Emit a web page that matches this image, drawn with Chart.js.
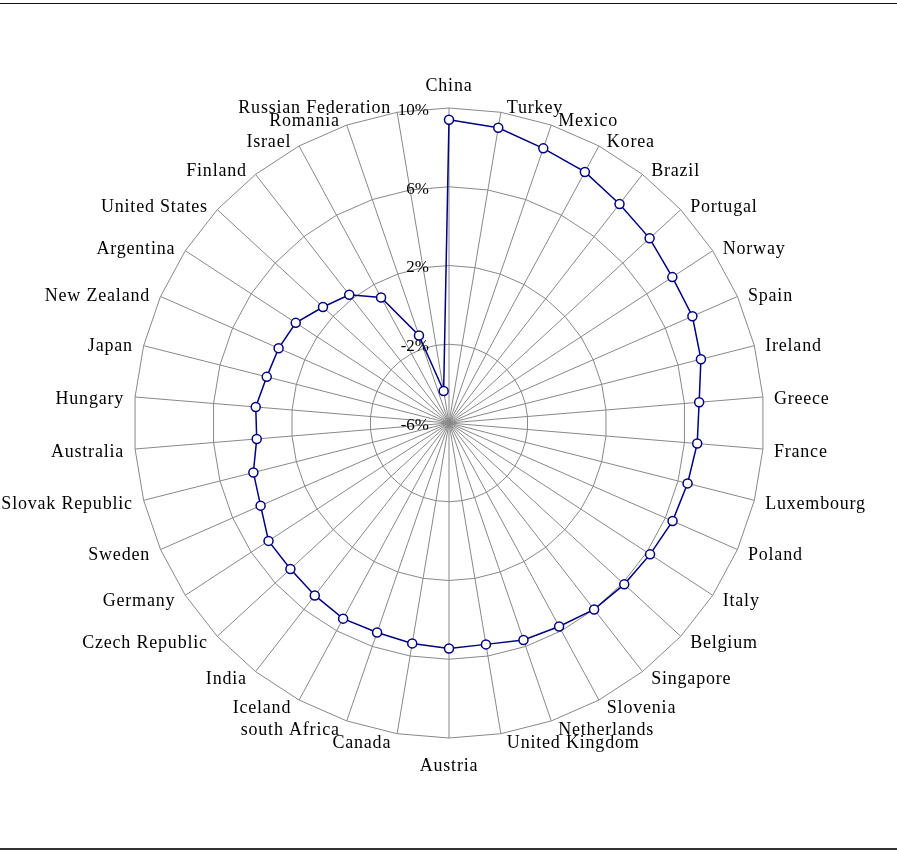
<!DOCTYPE html>
<html>
<head>
<meta charset="utf-8">
<script src="https://cdn.jsdelivr.net/npm/chart.js@4.4.1/dist/chart.umd.min.js"></script>
<style>
  html, body { margin: 0; padding: 0; background: #fff; }
  #wrap { position: relative; width: 897px; height: 850px; overflow: hidden; }
  #c { position: absolute; left: 0; top: 0; }
  .rule { position: absolute; left: 0; width: 897px; }
  #topRule { top: 3px; height: 1px; background: #111; }
  #botRule { top: 848px; height: 2px; background: #333; }
</style>
</head>
<body>
<div id="wrap">
  <canvas id="c" width="897" height="850"></canvas>
  <div id="topRule" class="rule"></div>
  <div id="botRule" class="rule"></div>
</div>
<script>
const categories = [
  "China", "Turkey", "Mexico", "Korea", "Brazil", "Portugal", "Norway", "Spain",
  "Ireland", "Greece", "France", "Luxembourg", "Poland", "Italy", "Belgium",
  "Singapore", "Slovenia", "Netherlands", "United Kingdom", "Austria", "Canada",
  "south Africa", "Iceland", "India", "Czech Republic", "Germany", "Sweden",
  "Slovak Republic", "Australia", "Hungary", "Japan", "New Zealand", "Argentina",
  "United States", "Finland", "Israel", "Romania", "Russian Federation"
];
const growthValues = [
  9.4, 9.2, 8.75, 8.5, 8.1, 7.85, 7.55, 7.5,
  7.2, 6.75, 6.65, 6.5, 6.4, 6.2, 6.1,
  6.0, 5.75, 5.65, 5.4, 5.45, 5.35,
  5.25, 5.3, 5.1, 4.95, 4.95, 4.45,
  4.25, 3.8, 3.85, 3.55, 3.45, 3.3,
  2.7, 2.25, 1.25, -1.3, -4.35
];
const tickValues = [-6, -2, 2, 6, 10];
const tickLabels = ["-6%", "-2%", "2%", "6%", "10%"];

const labelPlugin = {
  id: 'customLabels',
  beforeDatasetsDraw(chart) {
    const s = chart.scales.r;
    const ctx = chart.ctx;
    ctx.save();
    ctx.fillStyle = '#000';
    // tick labels
    ctx.font = '17px "Liberation Serif", "Times New Roman", serif';
    ctx.textAlign = 'right';
    ctx.textBaseline = 'middle';
    tickValues.forEach((v, i) => {
      const d = s.getDistanceFromCenterForValue(v);
      ctx.fillText(tickLabels[i], s.xCenter - 20, s.yCenter - d + 2.5);
    });
    // point labels
    ctx.font = '18px "Liberation Serif", "Times New Roman", serif';
    try { ctx.letterSpacing = '0.8px'; } catch (e) {}
    const R = s.drawingArea;
    categories.forEach((lab, i) => {
      const p = s.getPointPosition(i, R);
      const a = s.getIndexAngle(i);
      const sn = Math.sin(a), cs = Math.cos(a);
      let x = p.x, y = p.y, align;
      if (Math.abs(sn) < 1e-6) {
        align = 'center';
        y = p.y + (cs > 0 ? -24 : 26);
      } else {
        align = sn > 0 ? 'left' : 'right';
        x = p.x + Math.sign(sn) * (5 + 6 * Math.abs(sn));
        y = p.y - 7 * cs;
      }
      ctx.textAlign = align;
      ctx.fillText(lab, x, y + 2.5);
    });
    ctx.restore();
  }
};

new Chart(document.getElementById('c'), {
  type: 'radar',
  data: {
    labels: categories,
    datasets: [{
      data: growthValues,
      borderColor: '#000080',
      borderWidth: 1.5,
      backgroundColor: 'rgba(0,0,0,0)',
      fill: false,
      tension: 0,
      pointRadius: 4.5,
      pointBorderWidth: 1.5,
      pointBackgroundColor: '#fff',
      pointBorderColor: '#000080'
    }]
  },
  options: {
    responsive: false,
    animation: false,
    layout: { padding: { left: 134, right: 133, top: 108, bottom: 112 } },
    plugins: { legend: { display: false }, tooltip: { enabled: false } },
    scales: {
      r: {
        min: -6,
        max: 10,
        ticks: { display: false, stepSize: 4 },
        afterBuildTicks: (scale) => { scale.ticks = tickValues.map(v => ({ value: v })); },
        pointLabels: { display: false },
        grid: { color: '#888', lineWidth: 1, circular: false },
        angleLines: { color: '#888', lineWidth: 1 }
      }
    }
  },
  plugins: [labelPlugin]
});
</script>
</body>
</html>
